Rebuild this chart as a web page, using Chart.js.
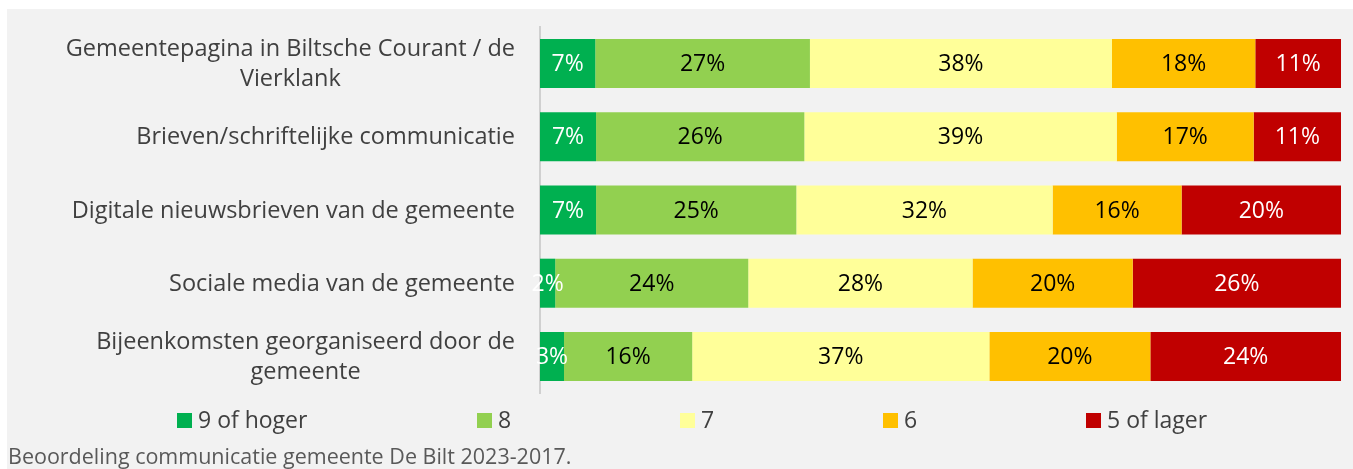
<!DOCTYPE html>
<html><head><meta charset="utf-8">
<script src="https://cdn.jsdelivr.net/npm/chart.js@4.4.0/dist/chart.umd.min.js"></script>
<style>
html,body{margin:0;padding:0;background:#fff;width:1353px;height:469px;overflow:hidden;}
#bg{position:absolute;left:7px;top:9px;width:1346px;height:460px;background:#f2f2f2;}
#box{position:absolute;left:0;top:0;width:1353px;height:469px;}
#cap{position:absolute;left:8px;top:442px;font-family:"Open Sans";font-size:21.5px;line-height:28px;color:#595959;white-space:nowrap;}
</style></head><body>
<div id="bg"></div>
<div id="box"><canvas id="c"></canvas></div>
<div id="cap">Beoordeling communicatie gemeente De Bilt 2023-2017.</div>
<script>
const categories = [
  ["Gemeentepagina in Biltsche Courant / de", "Vierklank"],
  "Brieven/schriftelijke communicatie",
  "Digitale nieuwsbrieven van de gemeente",
  "Sociale media van de gemeente",
  ["Bijeenkomsten georganiseerd door de", "gemeente"]
];
const seriesNames = ["9 of hoger", "8", "7", "6", "5 of lager"];
const v9 = [6.9, 7.0, 7.0, 1.9, 3.0];
const v8 = [26.8, 26.0, 25.0, 24.1, 16.0];
const v7 = [37.7, 39.0, 32.0, 28.0, 37.1];
const v6 = [17.9, 17.1, 16.1, 20.0, 20.1];
const v5 = [10.7, 10.9, 19.9, 26.0, 23.8];

const colors = ["#00B050", "#92D050", "#FFFF99", "#FFC000", "#C00000"];
const labelColors = ["#ffffff", "#000000", "#000000", "#000000", "#ffffff"];
const FONT = '"Open Sans", "Noto Sans", sans-serif';

const segLabels = {
  id: 'segLabels',
  afterDatasetsDraw(chart) {
    const ctx = chart.ctx; ctx.save();
    ctx.font = '23px ' + FONT; ctx.textAlign = 'center'; ctx.textBaseline = 'middle';
    chart.data.datasets.forEach((ds, di) => {
      chart.getDatasetMeta(di).data.forEach((el, i) => {
        const p = el.getCenterPoint();
        ctx.fillStyle = labelColors[di];
        ctx.fillText(Math.round(ds.data[i]) + '%', p.x, p.y + 1);
      });
    });
    ctx.restore();
  }
};

const yLabels = {
  id: 'yLabels',
  afterDraw(chart) {
    const ctx = chart.ctx, ys = chart.scales.y; ctx.save();
    ctx.font = '23.5px ' + FONT; ctx.fillStyle = '#404040';
    ctx.textAlign = 'center'; ctx.textBaseline = 'middle';
    categories.forEach((c, i) => {
      const lines = Array.isArray(c) ? c : [c];
      const w = Math.max(...lines.map(l => ctx.measureText(l).width));
      const cx = chart.chartArea.left - 25 - w / 2;
      const y = ys.getPixelForValue(i) + 1;
      lines.forEach((l, j) => ctx.fillText(l, cx, y + (j - (lines.length - 1) / 2) * 30));
    });
    ctx.restore();
  }
};

const legendXs = [177, 477, 680, 883, 1086];
const customLegend = {
  id: 'customLegend',
  afterDraw(chart) {
    const ctx = chart.ctx; ctx.save();
    ctx.font = '23px ' + FONT; ctx.textAlign = 'left'; ctx.textBaseline = 'middle';
    chart.data.datasets.forEach((ds, i) => {
      const x = legendXs[i];
      ctx.fillStyle = ds.backgroundColor;
      ctx.fillRect(x, 413, 15, 15);
      ctx.fillStyle = '#404040';
      ctx.fillText(ds.label, x + 21, 421);
    });
    ctx.restore();
  }
};

const seriesValues = [v9, v8, v7, v6, v5];
new Chart(document.getElementById('c'), {
  type: 'bar',
  data: {
    labels: categories,
    datasets: seriesNames.map((n, i) => ({
      label: n, data: seriesValues[i], backgroundColor: colors[i],
      borderWidth: 0, barPercentage: 0.67, categoryPercentage: 1
    }))
  },
  options: {
    indexAxis: 'y', responsive: true, maintainAspectRatio: false, animation: false,
    layout: { padding: { left: 540, right: 12, top: 27, bottom: 76 } },
    plugins: { legend: { display: false }, tooltip: { enabled: false } },
    scales: {
      x: { stacked: true, min: 0, max: 100, display: false },
      y: { stacked: true, ticks: { display: false },
           grid: { display: false, drawTicks: false },
           border: { display: true, color: '#d0d0d0', width: 2 } }
    }
  },
  plugins: [segLabels, yLabels, customLegend]
});
</script>
</body></html>
